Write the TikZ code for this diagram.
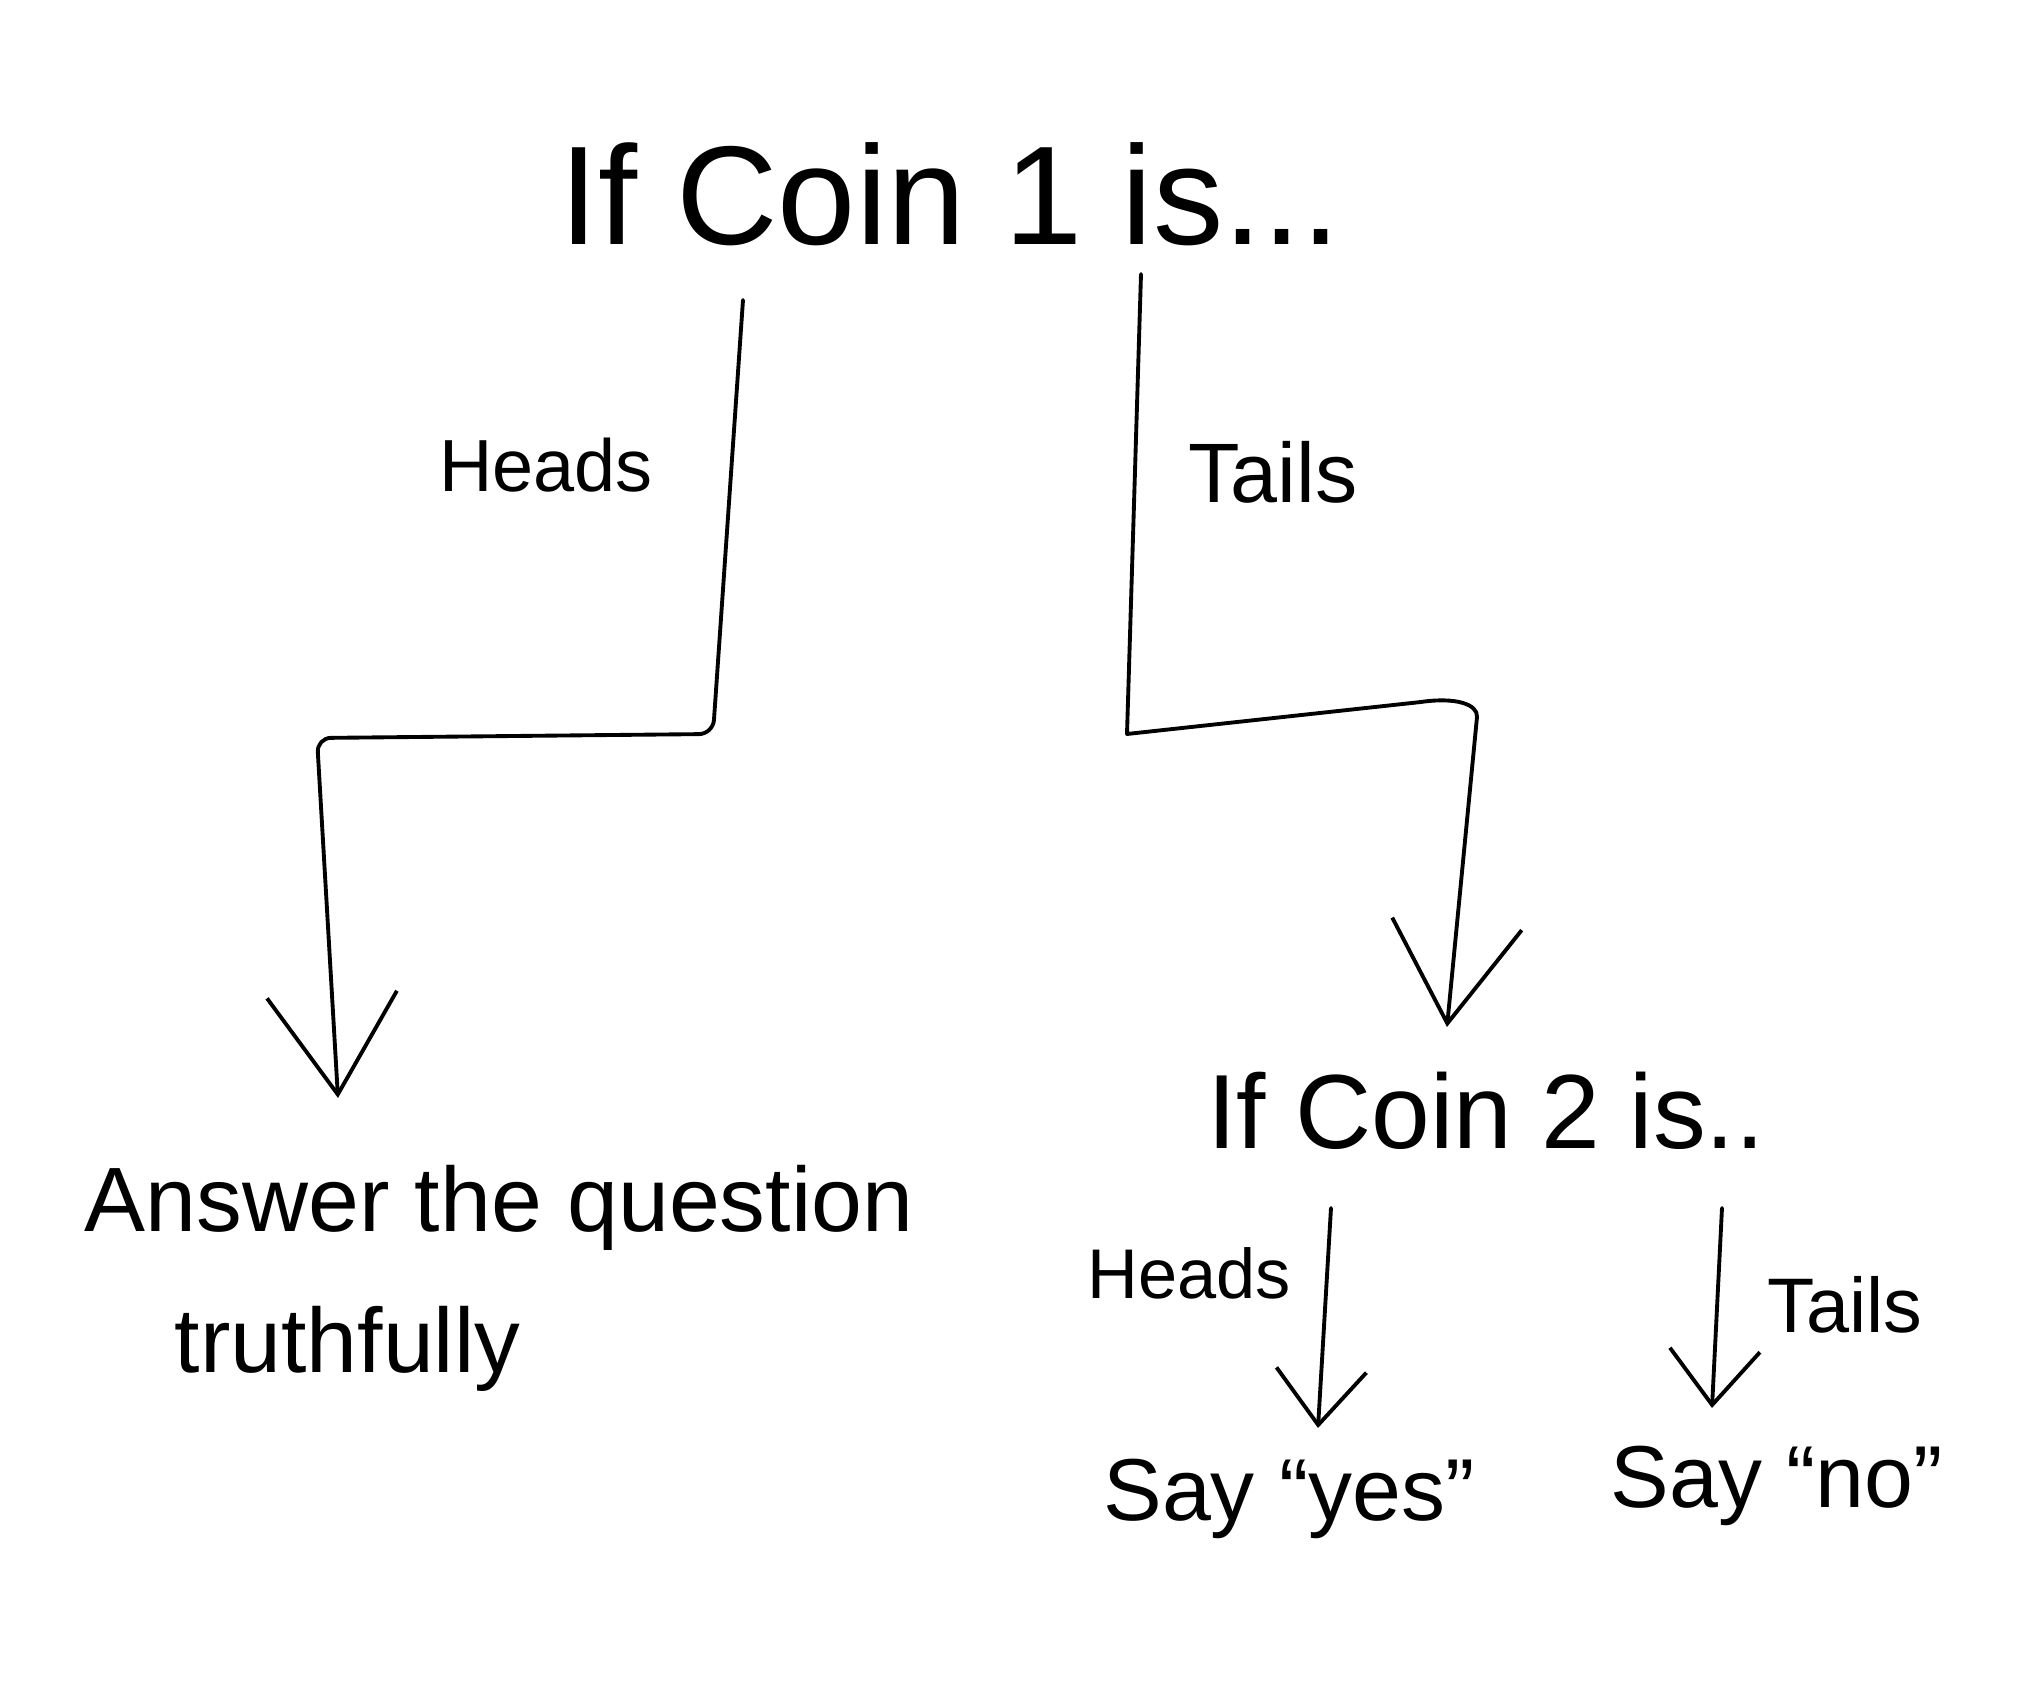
\documentclass[tikz,border=0pt]{standalone}
\usepackage{fontspec}
\setmainfont{Liberation Sans}
\usetikzlibrary{arrows.meta}
\begin{document}
\begin{tikzpicture}[x=0.01cm,y=-0.01cm,
  conn/.style={line width=1.1pt,line cap=round,line join=round},
  bigarrow/.style={conn,-{Straight Barb[length=10mm,width=13mm,line width=1.1pt]}},
  smallarrow/.style={conn,-{Straight Barb[length=5.5mm,width=9mm,line width=1.1pt]}},
  lbl/.style={inner sep=0pt,font=\fontsize{21}{25}\selectfont}]
\useasboundingbox (0,0) rectangle (2026,1698);
% texts
\node[inner sep=0pt,font=\fontsize{40}{48}\selectfont] (title) at (950,194) {If Coin 1 is...};
\node[lbl] (heads1) at (546,465) {Heads};
\node[lbl,font=\fontsize{24}{28}\selectfont] (tails1) at (1273,472) {Tails};
\node[inner sep=0pt,align=left,anchor=north west,font=\fontsize{26}{40}\selectfont] (answer) at (84,1165) {Answer the question\\\hspace*{0.9cm}truthfully};
\node[inner sep=0pt,font=\fontsize{30}{36}\selectfont] (coin2) at (1486,1111) {If Coin 2 is..};
\node[lbl,font=\fontsize{20}{24}\selectfont] (heads2) at (1189,1273) {Heads};
\node[lbl,font=\fontsize{22}{26}\selectfont] (tails2) at (1845,1305) {Tails};
\node[inner sep=0pt,font=\fontsize{25}{30}\selectfont] (yes) at (1289,1499) {Say “yes”};
\node[inner sep=0pt,font=\fontsize{25}{30}\selectfont] (no) at (1777,1486) {Say “no”};
% connector points
\coordinate (l0) at (743,300);
\coordinate (l1) at (713,734);
\coordinate (l2) at (317,738);
\coordinate (lt) at (338,1098);
\coordinate (r0) at (1141,274);
\coordinate (r1) at (1127,734);
\coordinate (r2) at (1421,702);
\coordinate (r3) at (1477,717);
\coordinate (rt) at (1447,1027);
\coordinate (s0) at (1331,1208);
\coordinate (st) at (1318,1428);
\coordinate (t0) at (1722,1208);
\coordinate (tt) at (1712,1408);
% connectors
\draw[bigarrow,rounded corners=4] (l0) -- (l1) -- (l2) -- (lt);
\draw[bigarrow] (r0) -- (r1) -- (r2) .. controls (1455,697) and (1478,704) .. (r3) -- (rt);
\draw[smallarrow] (s0) -- (st);
\draw[smallarrow] (t0) -- (tt);
\end{tikzpicture}
\end{document}
